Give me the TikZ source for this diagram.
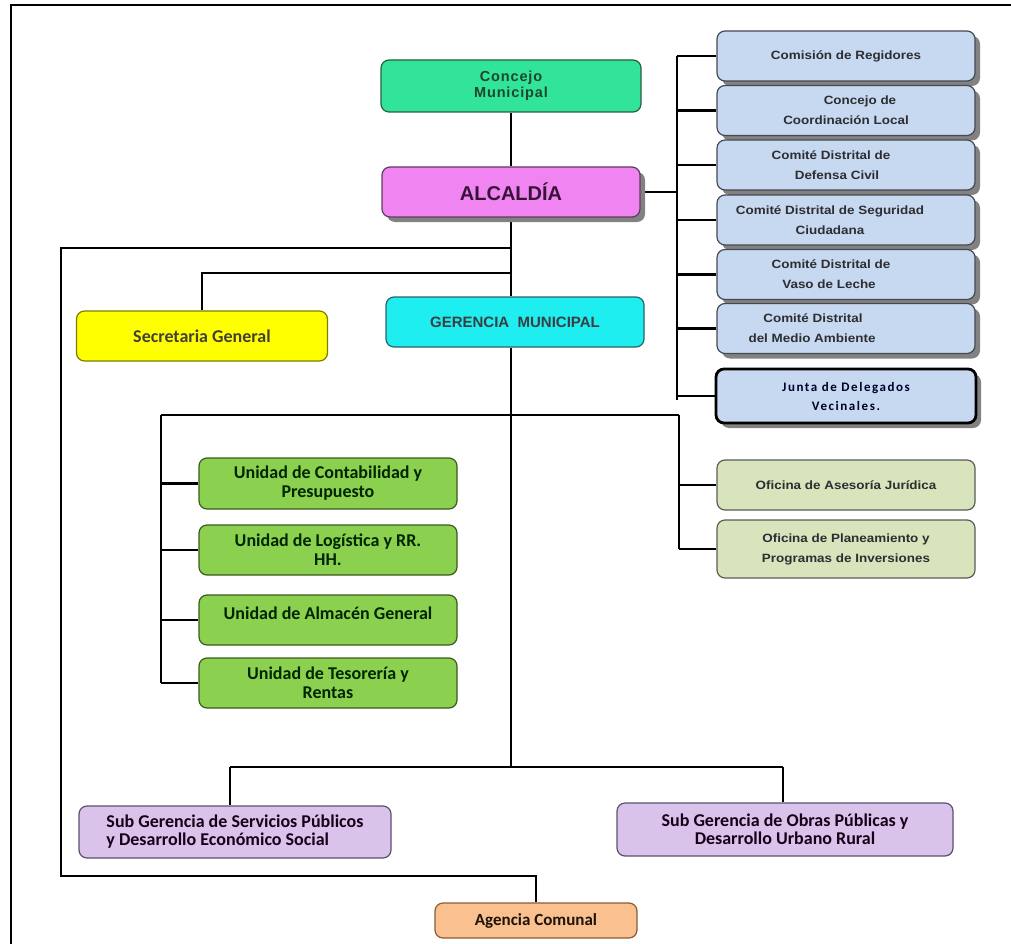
\documentclass[tikz,border=0pt]{standalone}
\usepackage{fontspec}
\setmainfont{Liberation Sans}
\newfontfamily\widefont[FakeStretch=1.12]{Liberation Sans}
\newfontfamily\spacedfont[LetterSpace=6]{Liberation Sans}
\newfontfamily\califont{Carlito}
\newfontfamily\calispaced[LetterSpace=12]{Carlito}
\usetikzlibrary{shadows}
\pgfdeclarelayer{background}
\pgfsetlayers{background,main}
\definecolor{cmunF}{RGB}{50,228,152}
\definecolor{cmunD}{RGB}{40,95,65}
\definecolor{cmunT}{RGB}{30,70,45}
\definecolor{alcF}{RGB}{240,132,240}
\definecolor{alcD}{RGB}{95,60,95}
\definecolor{alcT}{RGB}{55,20,55}
\definecolor{rbF}{RGB}{198,217,241}
\definecolor{rbD}{RGB}{70,72,82}
\definecolor{shadowgray}{RGB}{130,130,130}
\definecolor{secF}{RGB}{255,255,0}
\definecolor{secD}{RGB}{125,125,0}
\definecolor{gerF}{RGB}{30,238,240}
\definecolor{gerD}{RGB}{40,100,110}
\definecolor{grF}{RGB}{140,208,80}
\definecolor{grD}{RGB}{60,90,30}
\definecolor{olF}{RGB}{215,228,188}
\definecolor{olD}{RGB}{90,92,85}
\definecolor{sgF}{RGB}{217,195,235}
\definecolor{sgD}{RGB}{92,80,112}
\definecolor{agF}{RGB}{250,192,144}
\definecolor{agD}{RGB}{140,90,50}
\definecolor{darkT}{RGB}{45,45,50}
\begin{document}
\begin{tikzpicture}[x=1pt,y=-1pt,
  box/.style={draw, rounded corners=8pt, minimum height=50pt, align=center, inner sep=2pt, line width=1.2pt},
  sh/.style={drop shadow={shadow xshift=5pt, shadow yshift=-5pt, fill=shadowgray, opacity=1}},
  conn/.style={line width=2.6pt, black},
  rbox/.style={box, sh, fill=rbF, draw=rbD, minimum width=258pt, text=darkT,
    font=\widefont\bfseries\fontsize{12}{20}\selectfont},
  grbox/.style={box, fill=grF, draw=grD, minimum width=258pt, text=black!85!green,
    font=\califont\bfseries\fontsize{18}{19}\selectfont},
  olbox/.style={box, fill=olF, draw=olD, minimum width=258pt, text=darkT,
    font=\widefont\bfseries\fontsize{12}{20}\selectfont},
  sgbox/.style={box, fill=sgF, draw=sgD, minimum height=52pt, text=black!80!violet,
    font=\califont\bfseries\fontsize{18}{18}\selectfont}
]
\useasboundingbox (0,0) rectangle (1011,944);
% frame
\coordinate (f1) at (11,944);
\coordinate (f2) at (11,5);
\coordinate (f3) at (1011,5);
\draw[line width=2pt] (f1) -- (f2) -- (f3);

% top
\node[box, fill=cmunF, draw=cmunD, minimum width=260pt, minimum height=52pt, text=cmunT,
  font=\spacedfont\bfseries\fontsize{14.5}{16}\selectfont] (concejo) at (511,86) {Concejo\\Municipal};
\node[box, sh, fill=alcF, draw=alcD, minimum width=258pt, text=alcT,
  font=\bfseries\fontsize{20}{22}\selectfont] (alcaldia) at (511,192) {ALCALDÍA};

% right column
\node[rbox] (r1) at (846,56) {Comisión de Regidores};
\node[rbox] (r2) at (846,110.5) {\hspace*{28pt}Concejo de\\Coordinación Local};
\node[rbox] (r3) at (846,165) {\hspace*{-30pt}Comité Distrital de\\\hspace*{-18pt}Defensa Civil};
\node[rbox] (r4) at (846,220) {\hspace*{-32pt}Comité Distrital de Seguridad\\\hspace*{-32pt}Ciudadana};
\node[rbox] (r5) at (846,274.5) {\hspace*{-30pt}Comité Distrital de\\\hspace*{-34pt}Vaso de Leche};
\node[rbox] (r6) at (846,328.5) {\hspace*{-66pt}Comité Distrital\\\hspace*{-68pt}del Medio Ambiente};
\node[box, sh, fill=rbF, draw=black, line width=2.8pt, minimum width=260pt, minimum height=54pt,
  text=black!85!blue, font=\calispaced\bfseries\fontsize{13}{19}\selectfont] (junta) at (846,396)
  {Junta de Delegados\\Vecinales.};

% secretaria, gerencia
\node[box, fill=secF, draw=secD, minimum width=251pt, text=black!85!yellow,
  font=\califont\bfseries\fontsize{18}{20}\selectfont] (secretaria) at (202,336) {Secretaria General};
\node[box, fill=gerF, draw=gerD, minimum width=258pt, text=black!85!cyan,
  font=\bfseries\fontsize{15}{17}\selectfont] (gerencia) at (515,322) {GERENCIA\ \ MUNICIPAL};

% green units
\node[grbox, minimum height=51pt] (g1) at (328,483.5) {Unidad de Contabilidad y\\Presupuesto};
\node[grbox] (g2) at (328,550) {Unidad de Logística y RR.\\HH.};
\node[grbox] (g3) at (328,620) {\raisebox{7pt}[\height][\depth]{Unidad de Almacén General}};
\node[grbox] (g4) at (328,683) {Unidad de Tesorería y\\Rentas};

% olive offices
\node[olbox] (o1) at (846,485) {Oficina de Asesoría Jurídica};
\node[olbox, minimum height=58pt] (o2) at (846,549) {Oficina de Planeamiento y\\Programas de Inversiones};

% sub gerencias
\node[sgbox, minimum width=312pt, align=left] (sg1) at (235,832)
  {Sub Gerencia de Servicios Públicos\\y Desarrollo Económico Social};
\node[sgbox, minimum width=336pt, minimum height=53pt] (sg2) at (785,829.5)
  {Sub Gerencia de Obras Públicas y\\Desarrollo Urbano Rural};

% agencia
\node[box, fill=agF, draw=agD, minimum width=202pt, minimum height=35pt, text=black!85!brown,
  font=\califont\bfseries\fontsize{17}{19}\selectfont] (agencia) at (536,920.5) {Agencia Comunal};

% connectors
\coordinate (o1c) at (511,248);
\coordinate (o2c) at (61,876);
\coordinate (s1) at (511,273);
\coordinate (rb) at (677,400);
\coordinate (lb) at (161,415);
\coordinate (rb2) at (679,415);
\coordinate (bl) at (230,767);
\coordinate (br) at (783,767);
\begin{pgfonlayer}{background}
\draw[conn] (concejo.south) -- (concejo.south |- alcaldia.north);
\draw[conn] (alcaldia.south) -- (alcaldia.south |- gerencia.north);
\draw[conn] (alcaldia.south |- gerencia.south) -- (alcaldia.south |- bl);
\draw[conn] (o1c) -| (o2c) -| (agencia.north);
\draw[conn] (s1) -| (secretaria.north);
\draw[conn] (alcaldia.east) -- (alcaldia.east -| rb);
\draw[conn] (rb |- r1.west) -- (rb);
\foreach \n in {r1,r2,r3,r4,r5,r6,junta} \draw[conn] (rb |- \n.west) -- (\n.west);
\draw[conn] (lb) -- (rb2);
\draw[conn] (lb) -- (lb |- g4.west);
\foreach \n in {g1,g2,g3,g4} \draw[conn] (lb |- \n.west) -- (\n.west);
\draw[conn] (rb2) -- (rb2 |- o2.west);
\foreach \n in {o1,o2} \draw[conn] (rb2 |- \n.west) -- (\n.west);
\draw[conn] (bl) -- (br);
\draw[conn] (bl) -- (bl |- sg1.north);
\draw[conn] (br) -- (br |- sg2.north);
\end{pgfonlayer}
\end{tikzpicture}
\end{document}
